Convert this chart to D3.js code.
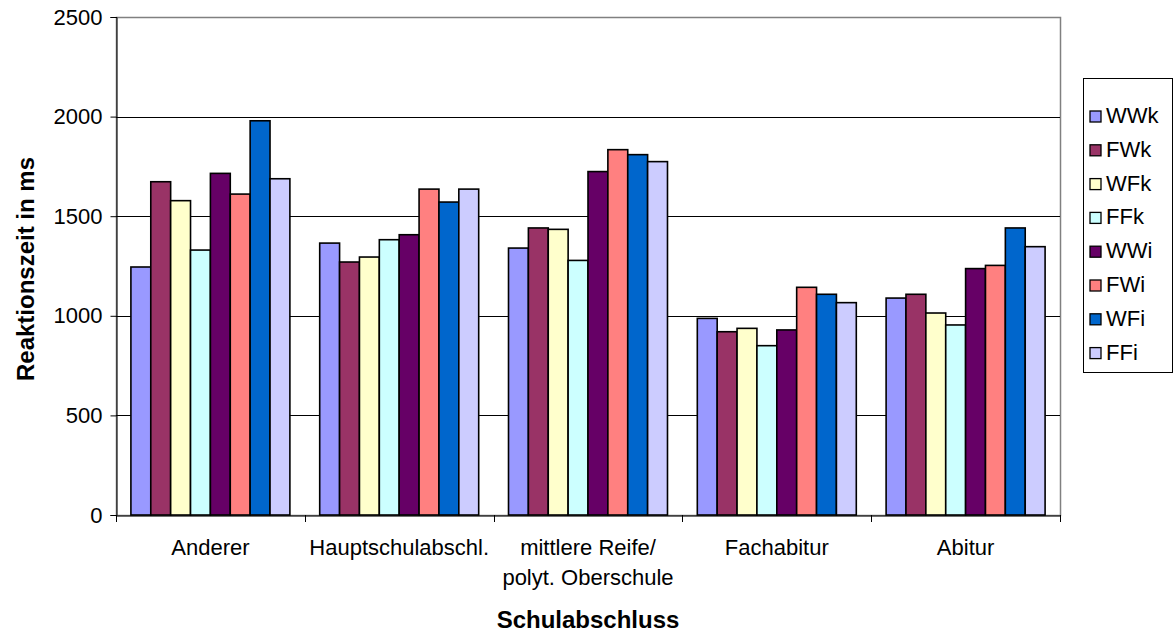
<!DOCTYPE html>
<html>
<head>
<meta charset="utf-8">
<script src="https://cdn.jsdelivr.net/npm/d3@7"></script>
<style>
  html, body { margin: 0; padding: 0; background: #fff; }
  svg { display: block; font-family: Arial, "Liberation Sans", sans-serif; }
</style>
</head>
<body>
<svg id="chart" width="1173" height="632"></svg>
<script>
// Schulabschluss categories
const categories = ["Anderer", "Hauptschulabschl.", "mittlere Reife/\npolyt. Oberschule", "Fachabitur", "Abitur"];
// Condition names (legend order)
const seriesNames = ["WWk", "FWk", "WFk", "FFk", "WWi", "FWi", "WFi", "FFi"];
const seriesColors = ["#9999FF", "#993366", "#FFFFCC", "#CCFFFF", "#660066", "#FF8080", "#0066CC", "#CCCCFF"];
// Reaction times in ms, one array per condition, in category order
const WWk = [1245, 1365, 1340, 987, 1089];
const FWk = [1673, 1270, 1441, 920, 1108];
const WFk = [1578, 1295, 1434, 937, 1014];
const FFk = [1330, 1382, 1278, 850, 954];
const WWi = [1715, 1407, 1724, 929, 1237];
const FWi = [1611, 1636, 1834, 1143, 1253];
const WFi = [1979, 1571, 1809, 1108, 1441];
const FFi = [1688, 1636, 1774, 1066, 1347];
const yTicks = [0, 500, 1000, 1500, 2000, 2500];

const seriesValues = [WWk, FWk, WFk, FFk, WWi, FWi, WFi, FFi];

const svg = d3.select("#chart");
const plot = { left: 116, right: 1060, top: 17, bottom: 515 };

const x0 = d3.scaleBand().domain(d3.range(categories.length)).range([plot.left, plot.right]).padding(0);
// 8 bars plus a gap of 1.5 bar widths per group
const groupPad = 1.5 / 9.5;
const x1 = d3.scaleBand().domain(d3.range(seriesNames.length))
  .range([x0.bandwidth() * groupPad / 2, x0.bandwidth() * (1 - groupPad / 2)]).padding(0);
const y = d3.scaleLinear().domain([0, 2500]).range([plot.bottom, plot.top]);

// Plot area frame
svg.append("rect")
  .attr("x", plot.left + 0.5).attr("y", plot.top + 0.5)
  .attr("width", plot.right - plot.left).attr("height", plot.bottom - plot.top)
  .attr("fill", "#fff").attr("stroke", "#808080").attr("stroke-width", 1.5);

// Horizontal gridlines
svg.append("g").selectAll("line").data(yTicks.filter(d => d > 0 && d < 2500)).join("line")
  .attr("x1", plot.left).attr("x2", plot.right)
  .attr("y1", d => Math.round(y(d)) + 0.5).attr("y2", d => Math.round(y(d)) + 0.5)
  .attr("stroke", "#000").attr("stroke-width", 1);

// Bars
const groups = svg.append("g").selectAll("g").data(categories).join("g")
  .attr("transform", (d, i) => `translate(${x0(i)},0)`);
groups.selectAll("rect")
  .data((d, i) => seriesValues.map((vals, s) => ({ s, v: vals[i] })))
  .join("rect")
  .attr("x", d => x1(d.s))
  .attr("width", x1.bandwidth())
  .attr("y", d => y(d.v))
  .attr("height", d => y(0) - y(d.v))
  .attr("fill", d => seriesColors[d.s])
  .attr("stroke", "#000").attr("stroke-width", 1.6);

// Y axis
const yAxis = d3.axisLeft(y).tickValues(yTicks).tickSize(6).tickPadding(8).tickFormat(d3.format("d"));
const gy = svg.append("g").attr("transform", `translate(${plot.left + 0.5},0)`).call(yAxis);
gy.select(".domain").attr("stroke", "#000");
gy.selectAll(".tick line").attr("stroke", "#000");
gy.selectAll("text").attr("font-size", 22).attr("fill", "#000")
  .attr("font-family", "Arial, 'Liberation Sans', sans-serif");

// X axis
const xAxis = d3.axisBottom(x0).tickSize(0).tickFormat(() => "");
const gx = svg.append("g").attr("transform", `translate(0,${plot.bottom + 0.5})`).call(xAxis);
gx.select(".domain").attr("stroke", "#000");
gx.selectAll(".tick").remove();
// Tick marks at group boundaries
svg.append("g").selectAll("line").data(d3.range(categories.length + 1)).join("line")
  .attr("x1", i => Math.round(plot.left + i * x0.bandwidth()) + 0.5)
  .attr("x2", i => Math.round(plot.left + i * x0.bandwidth()) + 0.5)
  .attr("y1", plot.bottom).attr("y2", plot.bottom + 7)
  .attr("stroke", "#000");

// Category labels (multi-line)
const catLabels = svg.append("g").selectAll("text").data(categories).join("text")
  .attr("x", (d, i) => x0(i) + x0.bandwidth() / 2)
  .attr("y", 555)
  .attr("text-anchor", "middle")
  .attr("font-size", 22).attr("fill", "#000");
catLabels.each(function (d) {
  const lines = d.split("\n");
  d3.select(this).selectAll("tspan").data(lines).join("tspan")
    .attr("x", d3.select(this).attr("x"))
    .attr("dy", (l, j) => j === 0 ? 0 : 30)
    .text(l => l);
});

// Axis titles
svg.append("text")
  .attr("x", (plot.left + plot.right) / 2).attr("y", 628)
  .attr("text-anchor", "middle").attr("font-size", 24).attr("font-weight", "bold")
  .text("Schulabschluss");
svg.append("text")
  .attr("transform", `translate(34,${(plot.top + plot.bottom) / 2 + 3}) rotate(-90)`)
  .attr("text-anchor", "middle").attr("font-size", 24).attr("font-weight", "bold")
  .text("Reaktionszeit in ms");

// Legend
const legend = { x: 1083, y: 78, w: 89, h: 294, step: 33.8 };
svg.append("rect")
  .attr("x", legend.x + 0.5).attr("y", legend.y + 0.5)
  .attr("width", legend.w).attr("height", legend.h)
  .attr("fill", "#fff").attr("stroke", "#000").attr("stroke-width", 1);
const li = svg.append("g").selectAll("g").data(seriesNames).join("g")
  .attr("transform", (d, i) => `translate(${legend.x + 7},${legend.y + 45 + i * legend.step})`);
li.append("rect")
  .attr("x", 0).attr("y", -12).attr("width", 11).attr("height", 11)
  .attr("fill", (d, i) => seriesColors[i]).attr("stroke", "#000").attr("stroke-width", 1.3);
li.append("text")
  .attr("x", 16).attr("y", 0)
  .attr("font-size", 22).attr("fill", "#000")
  .text(d => d);
</script>
</body>
</html>
